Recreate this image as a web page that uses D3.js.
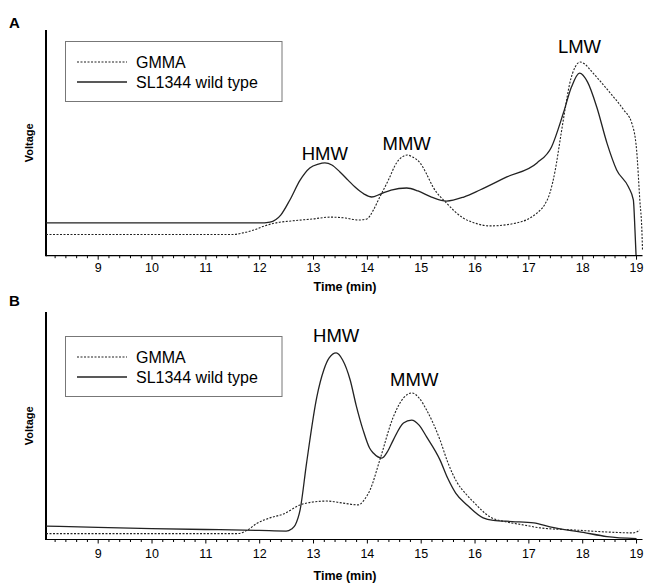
<!DOCTYPE html>
<html><head><meta charset="utf-8">
<script src="https://cdn.jsdelivr.net/npm/d3@7"></script>
<style>body{margin:0;background:#fff}svg{display:block}text{font-family:"Liberation Sans",Arial,sans-serif}</style>
</head><body>
<svg id="chart" width="651" height="583"></svg>
<script>
// ---------- DATA ----------
const majorTicks = [9,10,11,12,13,14,15,16,17,18,19];
const tickLabels = ["9","10","11","12","13","14","15","16","17","18","19"];
const seriesNames = ["GMMA","SL1344 wild type"];

// Panel A
const timeGmmaA = [8.04,11.5,11.7,11.9,12.1,12.3,12.6,13.0,13.32,13.6,13.85,14.0,14.12,14.24,14.4,14.55,14.65,14.75,14.85,14.99,15.1,15.23,15.48,15.79,16.0,16.29,16.78,17.0,17.16,17.3,17.4,17.5,17.59,17.68,17.77,17.87,17.96,18.05,18.15,18.35,18.52,18.77,18.92,19.01,19.07,19.11,19.12];
const gmmaA     = [9.4,9.4,10.1,11.4,13.2,14.5,15.4,16.3,17.1,16.7,15.8,16.3,20.2,26.0,33.5,41.1,43.7,44.6,43.7,41.1,36.6,30.4,23.3,16.7,14.5,13.2,14.5,16.3,18.9,22.5,27.8,38.0,51.3,64.6,76.5,83.6,85.8,84.9,82.3,76.9,72.1,64.6,58.8,46.9,24.7,10.1,2.5];
const timeWildA = [8.04,9,10,11,12.0,12.2,12.4,12.57,12.76,12.94,13.1,13.22,13.35,13.5,13.65,13.78,13.95,14.09,14.25,14.45,14.74,14.95,15.2,15.48,15.8,16.1,16.6,17.16,17.43,17.65,17.8,17.95,18.1,18.27,18.46,18.64,18.86,18.95,18.98,19.0];
const wildA     = [14.5,14.5,14.5,14.5,14.5,14.9,18.0,24.7,33.5,38.9,40.6,41.1,40.2,37.1,33.5,30.4,27.3,26.0,27.3,29.1,30.0,28.7,26.0,24.2,26.0,29.1,34.9,41.1,48.2,63.2,74.7,80.9,76.9,65.9,49.9,38.0,30.4,24.7,11.4,0.3];

// Panel B
const timeGmmaB = [8.04,11.6,11.8,11.95,12.2,12.45,12.76,13.0,13.25,13.56,13.84,13.95,14.06,14.24,14.49,14.68,14.84,14.97,15.11,15.36,15.5,15.67,15.84,15.98,16.29,16.6,16.91,17.22,17.84,18.46,18.95,19.07];
const gmmaB     = [2.6,2.6,4.4,7.0,9.5,11.2,15.2,16.5,16.9,16.0,15.2,17.4,21.8,34.9,53.8,62.2,64.4,62.2,56.9,43.7,34.1,25.3,20.0,16.5,9.9,7.7,6.4,5.1,4.2,3.3,2.9,4.2];
const timeWildB = [8.04,9,10,11,12,12.5,12.6,12.67,12.76,12.88,13.07,13.2,13.3,13.43,13.55,13.69,13.8,13.93,14.05,14.12,14.28,14.38,14.49,14.68,14.83,14.97,15.11,15.36,15.5,15.65,15.86,16.16,16.35,16.7,17.1,17.4,18.02,18.46,19.01];
const wildB     = [5.9,5.3,4.8,4.4,4.0,3.7,4.6,6.4,13.0,33.6,62.6,74.5,79.8,82.0,78.9,70.1,59.1,48.1,40.2,38.0,35.8,38.5,43.7,51.2,52.5,50.3,45.1,34.9,27.0,20.4,15.2,9.5,8.4,7.9,7.3,5.5,3.1,1.3,0.4];

const peakLabelsA = [{t:13.22,v:45.5,text:"HMW"},{t:14.74,v:49.5,text:"MMW"},{t:17.95,v:92.5,text:"LMW"}];
const peakLabelsB = [{t:13.43,v:89.5,text:"HMW"},{t:14.88,v:70.5,text:"MMW"}];

// ---------- DRAW ----------
const svg = d3.select("#chart");
const x = d3.scaleLinear().domain([8.04,19.12]).range([46,642.5]);

const panels = [
  {letter:"A", top:30, bottom:255.7, letterY:22, tickLabY:12.6, titleY:287, legendTop:41,
   gT:timeGmmaA, g:gmmaA, wT:timeWildA, w:wildA, labels:peakLabelsA},
  {letter:"B", top:312, bottom:539.5, letterY:300, tickLabY:14, titleY:576, legendTop:336,
   gT:timeGmmaB, g:gmmaB, wT:timeWildB, w:wildB, labels:peakLabelsB}
];

const minorTicks = d3.range(82,191,2).map(d=>d/10).filter(d=>!majorTicks.includes(d));

panels.forEach(p=>{
  const y = d3.scaleLinear().domain([0,100]).range([p.bottom,p.top]);
  const gr = svg.append("g");

  // panel letter
  gr.append("text").attr("x",9).attr("y",p.letterY+6).attr("font-size",15).attr("font-weight","bold").text(p.letter);

  // y axis line
  gr.append("line").attr("x1",46).attr("x2",46).attr("y1",p.top).attr("y2",p.bottom+0.5)
    .attr("stroke","#000").attr("stroke-width",2);
  // Voltage label
  gr.append("text").attr("transform",`translate(33,${(p.top+p.bottom)/2}) rotate(-90)`)
    .attr("text-anchor","middle").attr("font-size",11).attr("font-weight","bold").text("Voltage");

  // x axis
  const ax = gr.append("g").attr("transform",`translate(0,${p.bottom})`);
  ax.append("line").attr("x1",46).attr("x2",642.5).attr("stroke","#000").attr("stroke-width",1.2);
  const minorAxis = d3.axisBottom(x).tickValues(minorTicks).tickSize(2.5).tickFormat("");
  const mg = ax.append("g").call(minorAxis);
  mg.select(".domain").remove();
  mg.selectAll(".tick line").attr("stroke","#000");
  const majorAxis = d3.axisBottom(x).tickValues(majorTicks).tickSize(4).tickPadding(4)
    .tickFormat((d,i)=>tickLabels[i]);
  const Mg = ax.append("g").call(majorAxis);
  Mg.select(".domain").remove();
  Mg.selectAll(".tick line").attr("stroke","#000");
  Mg.selectAll(".tick text").attr("font-size",12.5).attr("font-family","Liberation Sans, Arial, sans-serif")
    .attr("fill","#000").attr("y",null).attr("dy",null)
    .attr("y",p.tickLabY).attr("dominant-baseline","central");

  gr.append("text").attr("x",345).attr("y",p.titleY).attr("text-anchor","middle")
    .attr("dominant-baseline","central").attr("font-size",12.5).attr("font-weight","bold").text("Time (min)");

  // lines
  const line = d3.line().x(d=>x(d[0])).y(d=>y(d[1])).curve(d3.curveMonotoneX);
  gr.append("path").datum(p.gT.map((t,i)=>[t,p.g[i]])).attr("d",line)
    .attr("fill","none").attr("stroke","#222").attr("stroke-width",1.1).attr("stroke-dasharray","2,1.5");
  gr.append("path").datum(p.wT.map((t,i)=>[t,p.w[i]])).attr("d",line)
    .attr("fill","none").attr("stroke","#222").attr("stroke-width",1.3);

  // peak labels
  p.labels.forEach(l=>{
    gr.append("text").attr("x",x(l.t)).attr("y",y(l.v)).attr("text-anchor","middle")
      .attr("dominant-baseline","central").attr("font-size",18.5).text(l.text);
  });

  // legend
  const lg = gr.append("g").attr("transform",`translate(65,${p.legendTop})`);
  lg.append("rect").attr("x",0.5).attr("y",0.5).attr("width",216.5).attr("height",60)
    .attr("fill","#fff").attr("stroke","#777").attr("stroke-width",1);
  seriesNames.forEach((n,i)=>{
    const yy = 21 + i*20;
    lg.append("line").attr("x1",12).attr("x2",62).attr("y1",yy).attr("y2",yy)
      .attr("stroke","#222").attr("stroke-width",i===0?1.1:1.3).attr("stroke-dasharray",i===0?"2,1.5":null);
    lg.append("text").attr("x",71).attr("y",yy).attr("dominant-baseline","central")
      .attr("font-size",16).text(n);
  });
});
</script>
</body></html>
